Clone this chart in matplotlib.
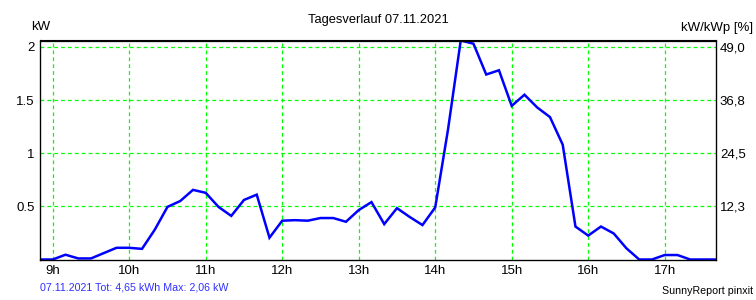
import numpy as np
import matplotlib.pyplot as plt

plt.rcParams['font.family'] = ['Liberation Sans', 'DejaVu Sans']

# 10-minute values from 8:50 to 17:40
start_hour = 8 + 50 / 60
power_kw = [0, 0, 0.045, 0.01, 0.01, 0.06, 0.11, 0.11, 0.10, 0.28,
            0.495, 0.55, 0.655, 0.627, 0.495, 0.41, 0.56, 0.61, 0.205, 0.365,
            0.37, 0.365, 0.39, 0.39, 0.355, 0.465, 0.54, 0.333, 0.483, 0.40,
            0.324, 0.49, 1.22, 2.06, 2.03, 1.74, 1.78, 1.445, 1.55, 1.43,
            1.34, 1.08, 0.31, 0.225, 0.31, 0.245, 0.105, 0, 0, 0.042,
            0.042, 0, 0, 0]
hour_ticks = [9, 10, 11, 12, 13, 14, 15, 16, 17]
hour_labels = ['9h', '10h', '11h', '12h', '13h', '14h', '15h', '16h', '17h']
kw_ticks = [0.5, 1, 1.5, 2]
kw_labels = ['0.5', '1', '1.5', '2']
pct_labels = ['12,3', '24,5', '36,8', '49,0']

hours = start_hour + np.arange(len(power_kw)) / 6

fig = plt.figure(figsize=(7.56, 3.0), dpi=100)
ax = fig.add_axes([40 / 756, 40.5 / 300, 675.7 / 756, 219 / 300])

ax.plot(hours, power_kw, color='#0000ff', lw=1.8, solid_joinstyle='miter')
ax.set_xlim(start_hour, 17 + 40 / 60)
ax.set_ylim(0, 2.06)

ax.set_xticks(hour_ticks)
ax.set_xticklabels(hour_labels)
ax.set_yticks(kw_ticks)
ax.set_yticklabels(kw_labels)
ax.grid(True, color='#00ff00', lw=0.9, linestyle=(0, (3, 2.5)))
ax.tick_params(length=0, labelsize=9.5, pad=4)
for s in ax.spines.values():
    s.set_linewidth(0.9)

ax2 = ax.twinx()
ax2.set_ylim(ax.get_ylim())
ax2.set_yticks(kw_ticks)
ax2.set_yticklabels(pct_labels)
ax2.tick_params(length=0, labelsize=9.5, pad=3)

fig.text(31 / 756, 1 - 27 / 300, 'kW', fontsize=9.5, va='center', ha='left')
fig.text(378 / 756, 1 - 20 / 300, 'Tagesverlauf 07.11.2021', fontsize=9.3,
         va='center', ha='center')
fig.text(753 / 756, 1 - 28 / 300, 'kW/kWp [%]', fontsize=9.5, va='center', ha='right')
fig.text(40 / 756, 1 - 288 / 300, '07.11.2021 Tot: 4,65 kWh Max: 2,06 kW',
         fontsize=7.7, color='#3030ff', va='center', ha='left')
fig.text(753 / 756, 1 - 291.5 / 300, 'SunnyReport pinxit', fontsize=7.7,
         va='center', ha='right')

fig.savefig('out.png', dpi=100)
